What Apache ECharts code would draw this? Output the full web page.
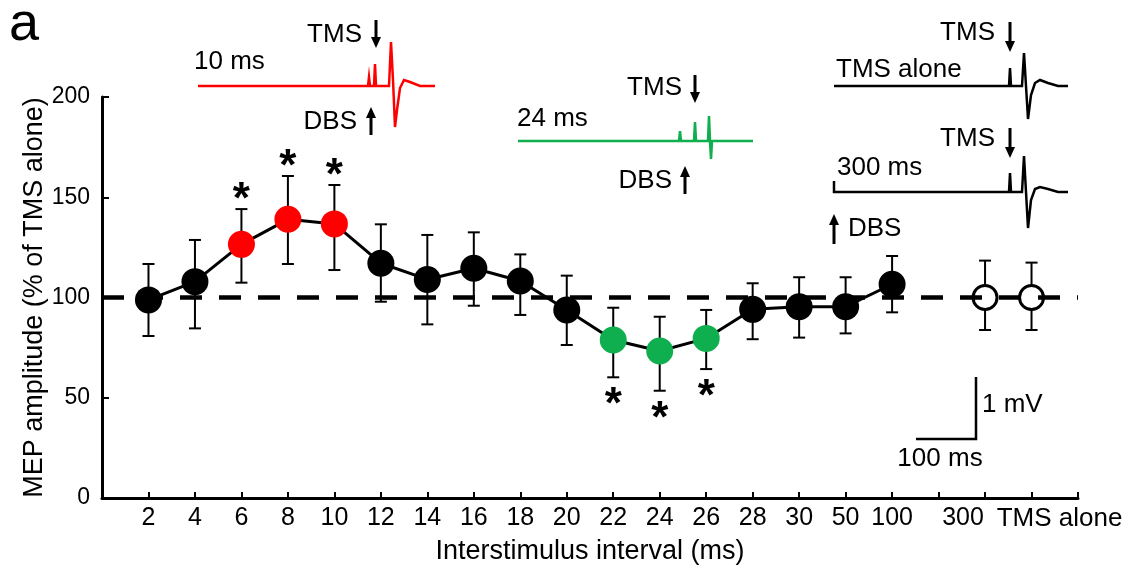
<!DOCTYPE html>
<html>
<head>
<meta charset="utf-8">
<script src="https://cdn.jsdelivr.net/npm/echarts@6/dist/echarts.min.js"></script>
<style>
  html, body { margin: 0; padding: 0; background: #fff; }
  #main { width: 1128px; height: 575px; }
</style>
</head>
<body>
<div id="main"></div>
<script>
// interstimulus intervals (ms); one empty slot between 100 and 300
const categories = ['2', '4', '6', '8', '10', '12', '14', '16', '18', '20', '22', '24', '26', '28', '30', '50', '100', '', '300', 'TMS alone'];
// MEP amplitude, % of TMS alone
const meanValues  = [98.8, 107.9, 126.5, 139.0, 136.7, 117.1, 109.0, 114.6, 108.2, 93.8, 78.8, 73.3, 79.6, 94.1, 95.4, 95.4, 106.6];
const upperValues = [116.7, 128.7, 144.1, 160.6, 156.1, 136.5, 131.2, 132.5, 121.5, 110.9, 94.9, 90.4, 93.8, 107.1, 110.1, 110.1, 120.7];
const lowerValues = [80.8, 84.6, 107.4, 116.7, 113.7, 97.9, 86.6, 95.9, 91.3, 76.3, 60.2, 53.5, 64.3, 79.2, 80.0, 82.1, 92.6];
// 1 = facilitated (red, * above), -1 = inhibited (green, * below)
const significance = [0, 0, 1, 1, 1, 0, 0, 0, 0, 0, -1, -1, -1, 0, 0, 0, 0];
// controls: 300 ms and TMS alone (open circles)
const controlSlots = [19, 20];
const controlMean  = [100, 100];
const controlUpper = [118.4, 117.4];
const controlLower = [83.8, 83.8];
const yTicks = [0, 50, 100, 150, 200];

const FONT = 'Liberation Sans';
const RED = '#ff0000';
const GREEN = '#0fae4e';

let chart = echarts.init(document.getElementById('main'));

let pointColor = s => (s > 0 ? RED : s < 0 ? GREEN : '#000');

let lineData = meanValues.map((v, i) => ({
  value: [i + 1, v],
  itemStyle: { color: pointColor(significance[i]) }
}));
let errData = meanValues.map((v, i) => [i + 1, upperValues[i], lowerValues[i], significance[i]]);
controlSlots.forEach((x, i) => errData.push([x, controlUpper[i], controlLower[i], 0]));
let controlData = controlSlots.map((x, i) => [x, controlMean[i]]);

function renderErrorBar(params, api) {
  let x = api.value(0);
  let top = api.coord([x, api.value(1)]);
  let bot = api.coord([x, api.value(2)]);
  let sig = api.value(3);
  let cap = 6;
  let st = { stroke: '#000', lineWidth: 2 };
  let children = [
    { type: 'line', shape: { x1: top[0], y1: top[1], x2: bot[0], y2: bot[1] }, style: st },
    { type: 'line', shape: { x1: top[0] - cap, y1: top[1], x2: top[0] + cap, y2: top[1] }, style: st },
    { type: 'line', shape: { x1: bot[0] - cap, y1: bot[1], x2: bot[0] + cap, y2: bot[1] }, style: st }
  ];
  if (sig) {
    children.push({
      type: 'text',
      style: {
        text: '*', x: top[0], y: sig > 0 ? top[1] - 8 : bot[1] + 29,
        align: 'center', verticalAlign: 'middle',
        font: 'bold 44px "' + FONT + '"', fill: '#000'
      }
    });
  }
  return { type: 'group', children: children };
}

// inset helpers
function txt(text, x, y, align) {
  return { type: 'text', z: 20, style: { text: text, x: x, y: y, align: align || 'left', verticalAlign: 'middle', font: '26px "' + FONT + '"', fill: '#000' } };
}
function arrow(x, y1, y2) {
  let d = y2 > y1 ? 1 : -1;
  return [
    { type: 'line', z: 20, shape: { x1: x, y1: y1, x2: x, y2: y2 - d * 8 }, style: { stroke: '#000', lineWidth: 3 } },
    { type: 'polygon', z: 20, shape: { points: [[x - 5, y2 - d * 11], [x + 5, y2 - d * 11], [x, y2]] }, style: { fill: '#000' } }
  ];
}
function trace(points, color) {
  return { type: 'polyline', z: 20, shape: { points: points }, style: { stroke: color, lineWidth: 2.5, fill: null } };
}

let graphics = [
  { type: 'text', z: 20, style: { text: 'a', x: 9, y: 25, verticalAlign: 'middle', font: '54px "' + FONT + '"', fill: '#000' } },
  // 10 ms inset
  trace([[198, 86], [368, 86], [369, 77], [370, 86], [374, 86], [375, 64], [376, 86], [389, 86], [391, 42], [393, 80], [395, 127], [397, 110], [400, 88], [404, 80], [410, 82], [420, 86], [435, 86]], RED),
  txt('10 ms', 194, 62), txt('TMS', 362, 35, 'right'), ...arrow(376, 20, 48),
  txt('DBS', 357, 122, 'right'), ...arrow(371, 135, 107),
  // 24 ms inset
  trace([[518, 141], [679, 141], [680, 131], [681, 141], [694, 141], [695, 122], [696, 141], [708, 141], [709, 116], [710, 141], [711, 159], [712, 141], [753, 141]], GREEN),
  txt('24 ms', 517, 119), txt('TMS', 682, 88, 'right'), ...arrow(695, 75, 103),
  txt('DBS', 672, 181, 'right'), ...arrow(685, 194, 166),
  // TMS alone inset
  trace([[834, 86], [1009, 86], [1010, 68], [1011, 86], [1022, 86], [1024, 53], [1026, 86], [1028, 119], [1031, 95], [1035, 83], [1040, 80], [1048, 83], [1058, 86], [1068, 86]], '#000'),
  txt('TMS', 995, 33, 'right'), ...arrow(1010, 22, 52), txt('TMS alone', 836, 70),
  // 300 ms inset
  trace([[834, 181], [834, 192], [1009, 192], [1010, 173], [1011, 192], [1022, 192], [1024, 156], [1026, 192], [1028, 228], [1031, 200], [1035, 189], [1040, 187], [1048, 189], [1058, 192], [1068, 192]], '#000'),
  txt('TMS', 995, 139, 'right'), ...arrow(1010, 128, 158), txt('300 ms', 837, 168),
  ...arrow(834, 244, 214), txt('DBS', 848, 229),
  // scale bar
  { type: 'polyline', z: 20, shape: { points: [[976, 377], [976, 439], [916, 439]] }, style: { stroke: '#000', lineWidth: 2.5, fill: null } },
  txt('1 mV', 982, 405), txt('100 ms', 940, 459, 'center')
];

let option = {
  animation: false,
  textStyle: { fontFamily: FONT },
  grid: { left: 102, right: 50, top: 97, bottom: 77 },
  xAxis: {
    type: 'value', min: 0, max: 21, interval: 1,
    name: 'Interstimulus interval (ms)', nameLocation: 'middle', nameGap: 40,
    nameTextStyle: { fontSize: 27, color: '#000', fontFamily: FONT },
    axisLine: { lineStyle: { color: '#000', width: 3 } },
    axisTick: { inside: true, length: 6, lineStyle: { color: '#000', width: 2 } },
    splitLine: { show: false },
    axisLabel: {
      margin: 8, color: '#000', fontSize: 25, fontFamily: FONT,
      formatter: v => {
        let c = categories[v - 1] || '';
        if (c === '300') return '{s|300}';
        if (c === 'TMS alone') return '{t|TMS alone}';
        return c;
      },
      rich: {
        s: { fontSize: 25, fontFamily: FONT, color: '#000', padding: [0, 44, 0, 0] },
        t: { fontSize: 26, fontFamily: FONT, color: '#000', padding: [0, 0, 0, 56] }
      }
    }
  },
  yAxis: {
    type: 'value', min: yTicks[0], max: yTicks[yTicks.length - 1], interval: 50,
    name: 'MEP amplitude (% of TMS alone)', nameLocation: 'middle', nameGap: 54,
    nameMoveOverlap: false,
    nameTextStyle: { fontSize: 27, color: '#000', fontFamily: FONT },
    axisLine: { show: true, lineStyle: { color: '#000', width: 3 } },
    axisTick: { show: true, inside: true, length: 7, lineStyle: { color: '#000', width: 2 } },
    splitLine: { show: false },
    axisLabel: { margin: 12, color: '#000', fontSize: 23, fontFamily: FONT }
  },
  series: [
    {
      type: 'custom', name: 'sem', z: 2,
      renderItem: renderErrorBar,
      data: errData,
      markLine: {
        silent: true, symbol: 'none', label: { show: false },
        lineStyle: { color: '#000', width: 4.5, type: [22, 17] },
        data: [{ yAxis: 100 }]
      }
    },
    {
      type: 'line', name: 'MEP', z: 3,
      data: lineData,
      symbol: 'circle', symbolSize: 27,
      lineStyle: { color: '#000', width: 3 }
    },
    {
      type: 'scatter', name: 'control', z: 4,
      data: controlData,
      symbol: 'circle', symbolSize: 24,
      itemStyle: { color: '#fff', borderColor: '#000', borderWidth: 3, opacity: 1 }
    }
  ],
  graphic: graphics
};

chart.setOption(option);
</script>
</body>
</html>
